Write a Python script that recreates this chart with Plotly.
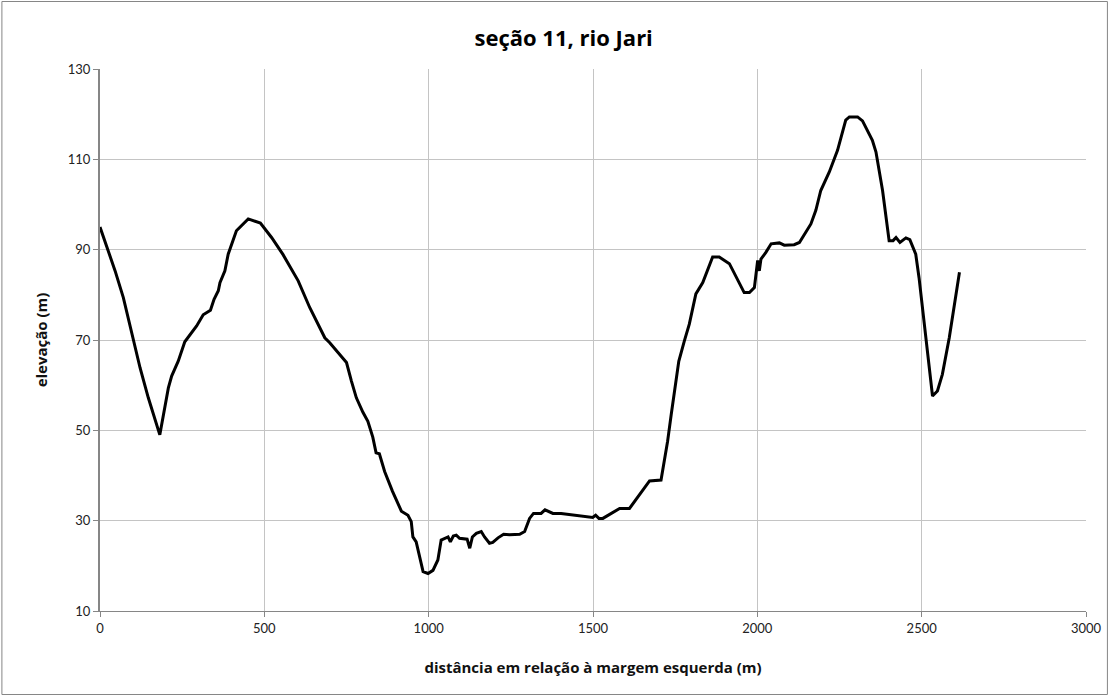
import plotly.graph_objects as go

# Cross-section profile: distance from the left bank (m) and elevation (m)
distancia = [
    0, 46, 71, 101, 122, 147, 182, 208, 218, 238, 258, 294, 314, 336, 347, 360,
    365, 380, 390, 415, 451, 488, 522, 557, 603, 638, 684, 699, 750, 765, 780,
    800, 815, 830, 840, 850, 866, 890, 917, 937, 947, 952, 962, 983, 998, 1013,
    1028, 1038, 1049, 1059, 1066, 1075, 1084, 1094, 1117, 1125, 1133, 1145,
    1160, 1170, 1185, 1195, 1211, 1228, 1246, 1277, 1292, 1307, 1319, 1342,
    1354, 1378, 1403, 1459, 1499, 1508, 1518, 1530, 1550, 1581, 1611, 1641,
    1672, 1707, 1717, 1727, 1738, 1761, 1778, 1793, 1813, 1834, 1864, 1884,
    1915, 1960, 1976, 1991, 2001, 2006, 2011, 2026, 2042, 2067, 2082, 2112,
    2128, 2148, 2163, 2178, 2193, 2219, 2244, 2269, 2280, 2305, 2320, 2350,
    2361, 2381, 2401, 2413, 2422, 2434, 2452, 2464, 2482, 2492, 2500, 2513,
    2533, 2548, 2563, 2584, 2604, 2615,
]
elevacao = [
    95.0, 85.3, 79.4, 70.5, 63.8, 57.2, 49.0, 59.4, 62.0, 65.3, 69.6, 73.1,
    75.6, 76.6, 79.0, 80.9, 82.7, 85.3, 89.0, 94.2, 96.8, 95.9, 92.7, 88.9,
    83.1, 77.2, 70.5, 69.4, 65.0, 60.9, 57.2, 54.0, 52.0, 48.5, 45.0, 44.8,
    40.9, 36.5, 32.1, 31.2, 29.8, 26.4, 25.3, 18.7, 18.3, 19.0, 21.3, 25.7,
    26.1, 26.4, 25.3, 26.6, 26.8, 26.1, 25.9, 23.9, 26.4, 27.2, 27.6, 26.4,
    25.0, 25.2, 26.2, 27.0, 26.9, 27.0, 27.6, 30.5, 31.6, 31.6, 32.4, 31.6,
    31.6, 31.1, 30.7, 31.2, 30.5, 30.5, 31.3, 32.7, 32.7, 35.7, 38.8, 39.0,
    43.1, 47.6, 53.5, 65.3, 69.8, 73.5, 80.2, 82.7, 88.4, 88.4, 86.9, 80.5,
    80.5, 81.6, 87.6, 85.3, 87.9, 89.4, 91.3, 91.5, 91.0, 91.1, 91.6, 93.9,
    95.7, 98.7, 103.1, 107.2, 112.0, 118.7, 119.4, 119.4, 118.5, 114.2, 111.6,
    103.1, 92.0, 92.0, 92.7, 91.6, 92.6, 92.2, 89.0, 83.8, 78.7, 69.8, 57.6,
    58.7, 62.4, 70.5, 79.4, 85.0,
]

titulo = "seção 11, rio Jari"
titulo_x = "distância em relação à margem esquerda (m)"
titulo_y = "elevação (m)"

FONT = "Lato, 'Open Sans', sans-serif"
FONT_T = "'Open Sans', Lato, sans-serif"

fig = go.Figure()
fig.add_trace(go.Scatter(
    x=distancia, y=elevacao, mode="lines",
    line=dict(color="black", width=3),
    showlegend=False, hoverinfo="x+y",
))

W, H = 1114, 696
L, R, T, B = 100, 24, 69, 85
pw, ph = W - L - R, H - T - B

fig.update_layout(
    width=W, height=H,
    margin=dict(l=L, r=R, t=T, b=B),
    paper_bgcolor="white", plot_bgcolor="white",
    font=dict(family=FONT, size=13, color="#222"),
    title=dict(
        text=f"<b>{titulo}</b>", x=0.506, xanchor="center",
        y=1 - 38 / H, yanchor="middle",
        font=dict(family=FONT_T, size=22, color="black"),
    ),
    xaxis=dict(
        range=[0, 3000], dtick=500, tick0=0,
        showgrid=True, gridcolor="#c4c4c4", gridwidth=1,
        showline=True, linecolor="#868686", linewidth=1,
        ticks="outside", ticklen=5, tickcolor="#868686",
        zeroline=False,
        tickfont=dict(family=FONT, size=13, color="#222"),
        title=dict(text=f"<b>{titulo_x}</b>", standoff=27,
                   font=dict(family=FONT_T, size=15, color="#111")),
    ),
    yaxis=dict(
        range=[10, 130], dtick=20, tick0=10,
        showgrid=True, gridcolor="#c4c4c4", gridwidth=1,
        showline=True, linecolor="#868686", linewidth=2,
        ticks="outside", ticklen=5, tickcolor="#868686",
        zeroline=False,
        tickfont=dict(family=FONT, size=13, color="#222"),
        title=dict(text=f"<b>{titulo_y}</b>", standoff=17,
                   font=dict(family=FONT_T, size=15, color="#111")),
    ),
)

# Thin frame around the whole chart
fig.add_shape(
    type="rect", xref="paper", yref="paper",
    x0=(1.5 - L) / pw, x1=(W - 2.5 - L) / pw,
    y0=-(B - 1.5) / ph, y1=1 + (T - 1.5) / ph,
    line=dict(color="#868686", width=1), fillcolor="rgba(0,0,0,0)",
    layer="below",
)

fig.write_html("out.html")
